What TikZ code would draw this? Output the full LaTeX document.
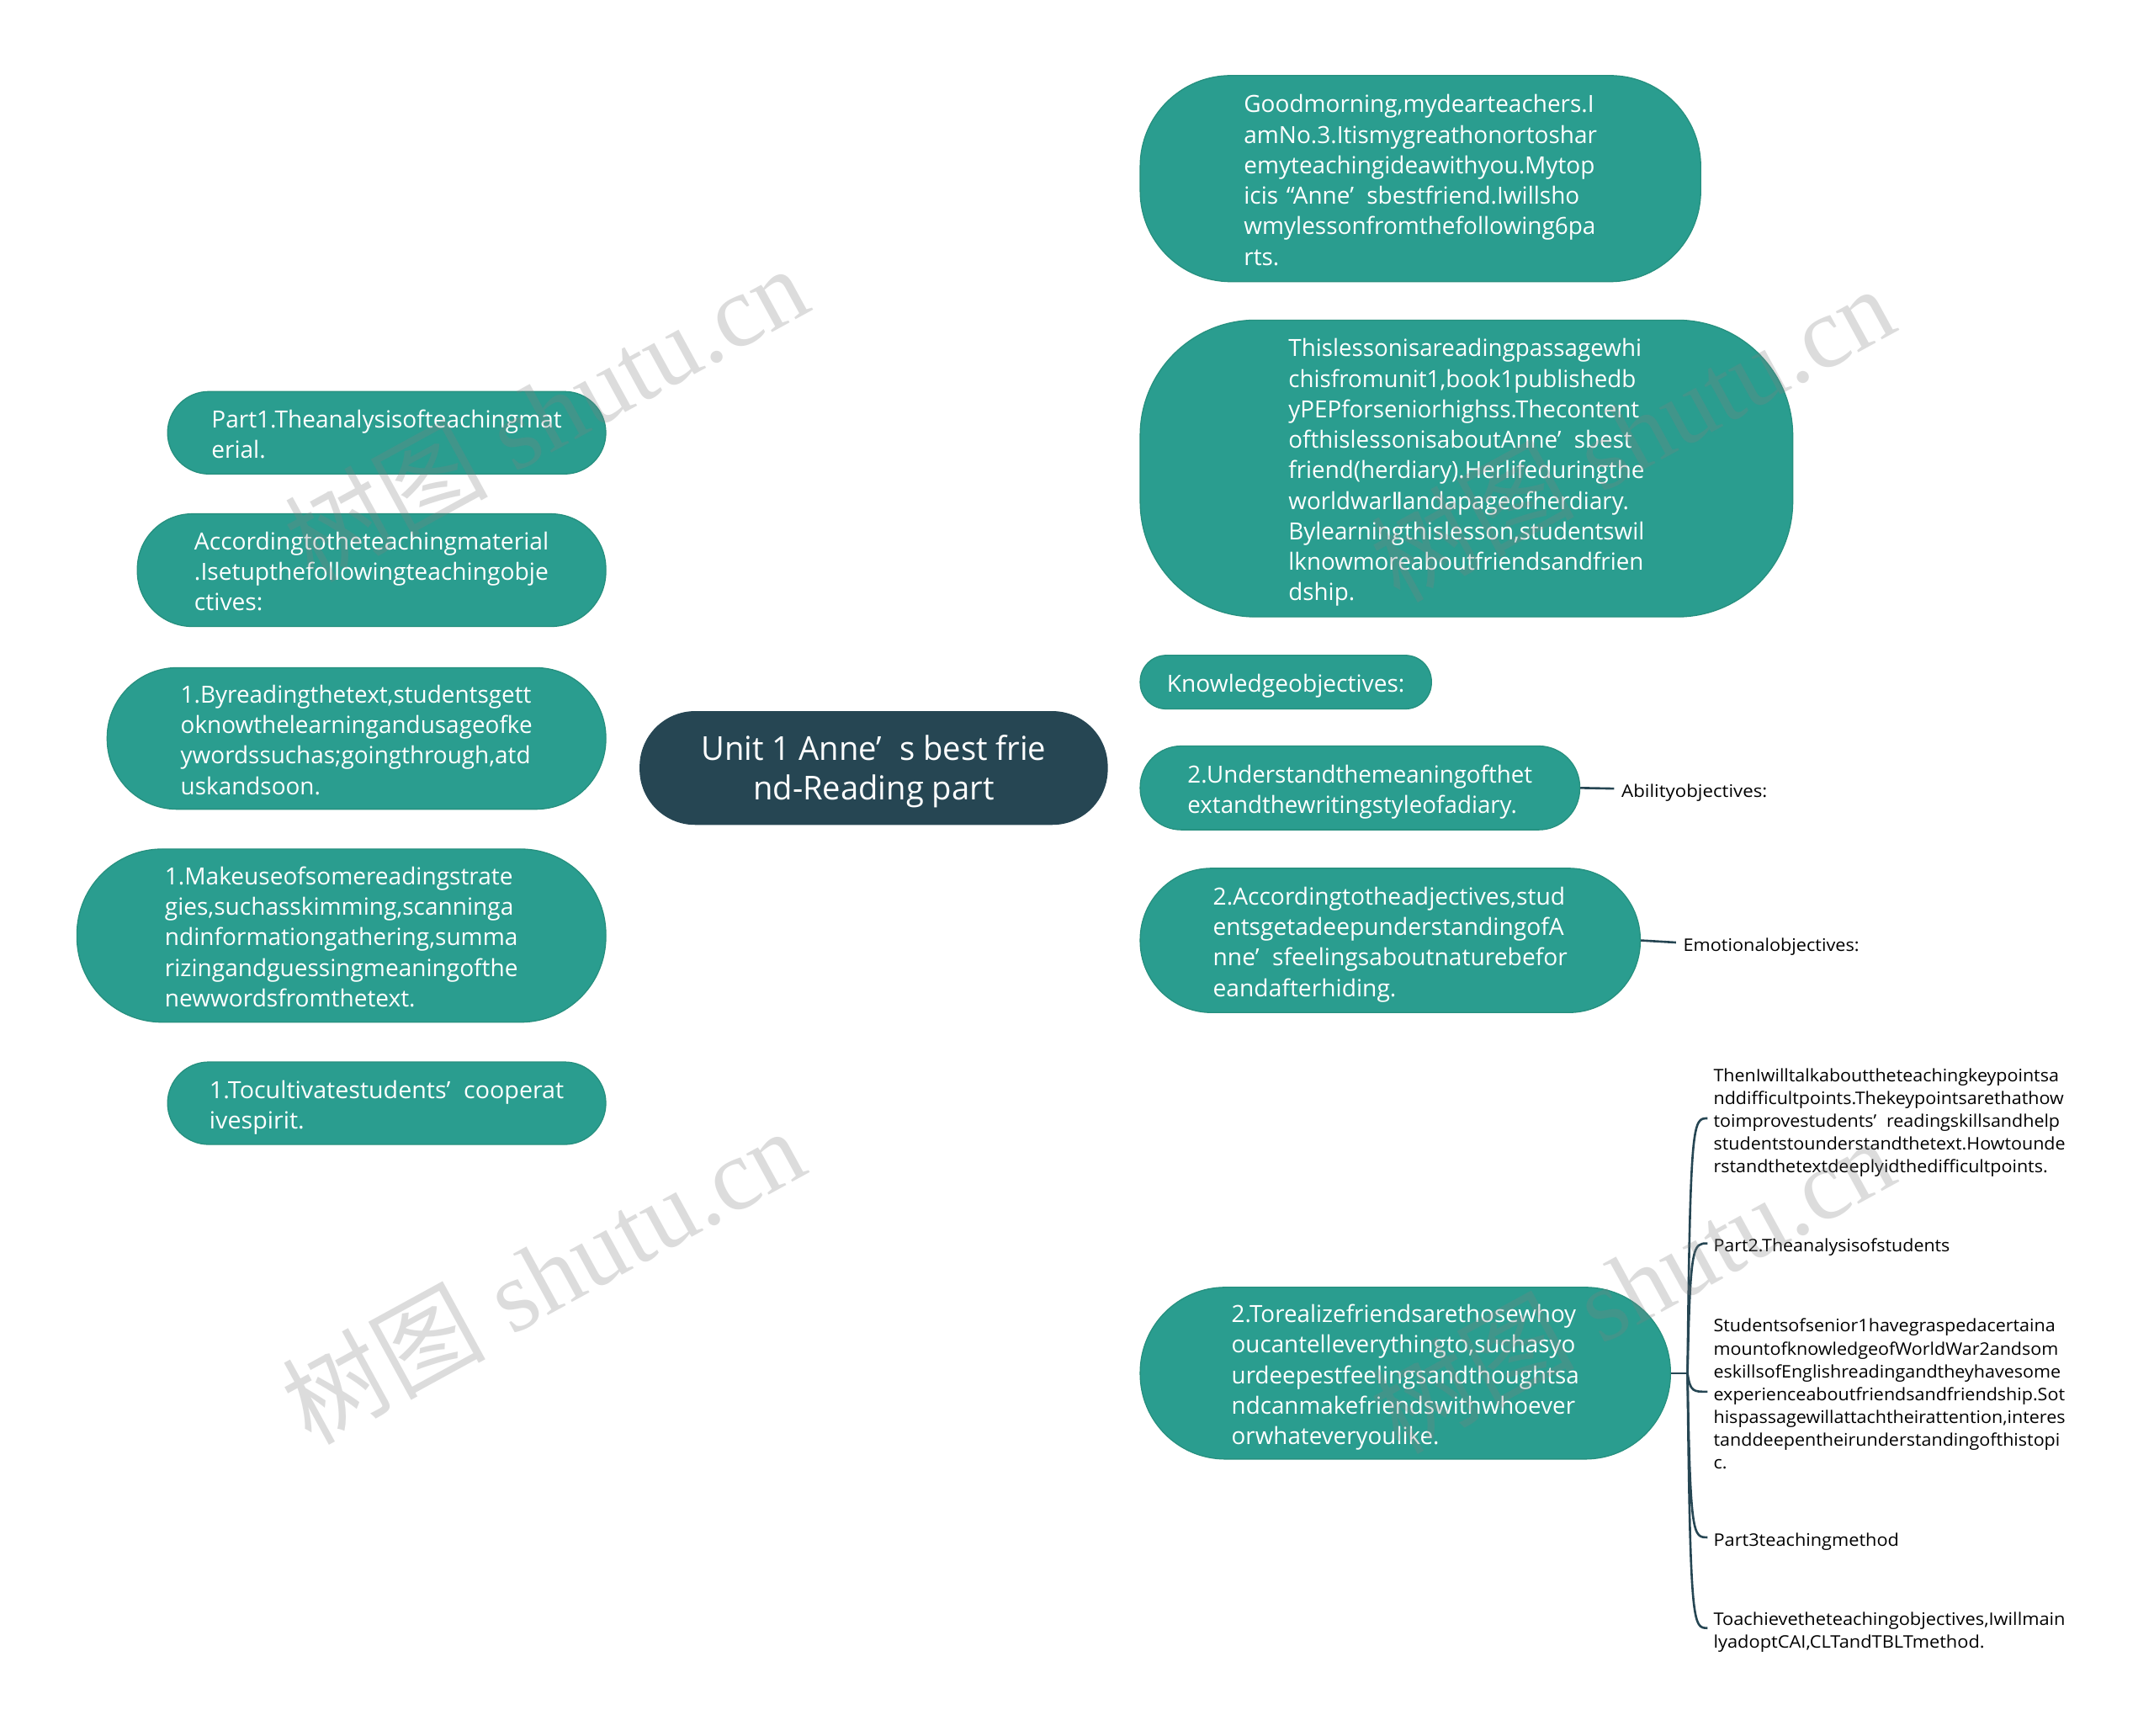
\documentclass[tikz,border=0pt]{standalone}
\usepackage{fontspec}
\usepackage{graphicx}
\setmainfont{Open Sans}
\newfontfamily\dejavu{DejaVu Sans}
\newfontfamily\cjk{Noto Sans CJK SC}
\newfontfamily\wmserif{Liberation Serif}
\usetikzlibrary{calc}
\pgfdeclarelayer{background}
\pgfsetlayers{background,main}
\definecolor{teal1}{HTML}{2A9D8F}
\definecolor{teal2}{HTML}{26907F}
\definecolor{dark1}{HTML}{264653}
\newcommand\tb[3]{\raisebox{0pt}[\dimexpr\height+3pt\relax][\depth]{\resizebox{#1pt}{\height}{\begin{tabular}{@{}#2@{}}#3\end{tabular}}}}
\newcommand\fq{’\hspace{0.55em}}
\tikzset{
  gbox/.style={fill=teal1, draw=teal2, line width=0.4pt, text=white, inner sep=0pt,
    font=\fontsize{8.6}{11.1}\selectfont},
  rootbox/.style={fill=dark1, draw=dark1, text=white, inner sep=0pt,
    font=\fontsize{12}{14.6}\selectfont},
  leaf/.style={text=black, inner sep=0pt, anchor=west, font=\fontsize{6.3}{8.3}\selectfont},
  edge/.style={draw=dark1, line width=0.8pt},
  wm/.style={text=gray, opacity=0.27, font=\fontsize{37}{40}\selectfont, inner sep=0pt}
}
\begin{document}
\begin{tikzpicture}[x=0.5pt,y=-0.5pt]
\useasboundingbox (0,0) rectangle (1568,1263);
\fill[white] (0,0) rectangle (1568,1263);

% root
\node[rootbox, minimum width=170pt, minimum height=41pt, rounded corners=20pt] (root) at (636,559)
  {\tb{125.5}{c}{Unit 1 Anne\fq s best frie\\nd-Reading part}};

% right nodes
\node[gbox, minimum width=204pt, minimum height=75pt, rounded corners=33pt] (r1) at (1034,130)
  {\tb{128.5}{l}{Goodmorning,mydearteachers.I\\amNo.3.Itismygreathonortoshar\\emyteachingideawithyou.Mytop\\icis\hspace{0.35em}“Anne\fq sbestfriend.Iwillsho\\wmylessonfromthefollowing6pa\\rts.}};
\node[gbox, minimum width=237.5pt, minimum height=108pt, rounded corners=42pt] (r2) at (1067.5,341)
  {\tb{129.5}{l}{Thislessonisareadingpassagewhi\\chisfromunit1,book1publishedb\\yPEPforseniorhighss.Thecontent\\ofthislessonisaboutAnne\fq sbest\\friend(herdiary).Herlifeduringthe\\worldwar{\dejavu Ⅱ}andapageofherdiary.\\Bylearningthislesson,studentswil\\lknowmoreaboutfriendsandfrien\\dship.}};
\node[gbox, minimum width=106pt, minimum height=19.5pt, rounded corners=9.5pt] (r3) at (936,496.5)
  {\tb{86.5}{l}{Knowledgeobjectives:}};
\node[gbox, minimum width=160pt, minimum height=30.5pt, rounded corners=15pt] (r4) at (990,573.5)
  {\tb{125.5}{l}{2.Understandthemeaningofthet\\extandthewritingstyleofadiary.}};
\node[gbox, minimum width=182pt, minimum height=52.5pt, rounded corners=26pt] (r5) at (1012,684.5)
  {\tb{129}{l}{2.Accordingtotheadjectives,stud\\entsgetadeepunderstandingofA\\nne\fq sfeelingsaboutnaturebefor\\eandafterhiding.}};
\node[gbox, minimum width=193pt, minimum height=62.5pt, rounded corners=31pt] (r6) at (1023,999.5)
  {\tb{126.5}{l}{2.Torealizefriendsarethosewhoy\\oucantelleverythingto,suchasyo\\urdeepestfeelingsandthoughtsa\\ndcanmakefriendswithwhoever\\orwhateveryoulike.}};

% left nodes
\node[gbox, minimum width=159.5pt, minimum height=30pt, rounded corners=15pt] (l1) at (281.5,315)
  {\tb{127.5}{l}{Part1.Theanalysisofteachingmat\\erial.}};
\node[gbox, minimum width=170.5pt, minimum height=41pt, rounded corners=20pt] (l2) at (270.5,415)
  {\tb{129}{l}{Accordingtotheteachingmaterial\\.Isetupthefollowingteachingobje\\ctives:}};
\node[gbox, minimum width=181.5pt, minimum height=51.5pt, rounded corners=25.5pt] (l3) at (259.5,537.5)
  {\tb{128}{l}{1.Byreadingthetext,studentsgett\\oknowthelearningandusageofke\\ywordssuchas;goingthrough,atd\\uskandsoon.}};
\node[gbox, minimum width=192.5pt, minimum height=63pt, rounded corners=31pt] (l4) at (248.5,681)
  {\tb{128.5}{l}{1.Makeuseofsomereadingstrate\\gies,suchasskimming,scanninga\\ndinformationgathering,summa\\rizingandguessingmeaningofthe\\newwordsfromthetext.}};
\node[gbox, minimum width=159.5pt, minimum height=30pt, rounded corners=15pt] (l5) at (281.5,803)
  {\tb{129}{l}{1.Tocultivatestudents\fq cooperat\\ivespirit.}};

% leaves
\node[leaf] (ab) at (1180,574) {\tb{53}{l}{Abilityobjectives:}};
\node[leaf] (em) at (1225,686) {\tb{64}{l}{Emotionalobjectives:}};
\node[leaf] (k1) at (1247,814) {\tb{128}{l}{ThenIwilltalkabouttheteachingkeypointsa\\nddifficultpoints.Thekeypointsarethathow\\toimprovestudents\fq readingskillsandhelp\\studentstounderstandthetext.Howtounde\\rstandthetextdeeplyidthedifficultpoints.}};
\node[leaf] (k2) at (1247,905) {\tb{86}{l}{Part2.Theanalysisofstudents}};
\node[leaf] (k3) at (1247,1013) {\tb{128}{l}{Studentsofsenior1havegraspedacertaina\\mountofknowledgeofWorldWar2andsom\\eskillsofEnglishreadingandtheyhavesome\\experienceaboutfriendsandfriendship.Sot\\hispassagewillattachtheirattention,interes\\tanddeepentheirunderstandingofthistopi\\c.}};
\node[leaf] (k4) at (1247,1119) {\tb{67.5}{l}{Part3teachingmethod}};
\node[leaf] (k5) at (1247,1185) {\tb{128}{l}{Toachievetheteachingobjectives,Iwillmain\\lyadoptCAI,CLTandTBLTmethod.}};

\coordinate (j) at ($(r6.east)+(12,0)$);

\begin{pgfonlayer}{background}
\foreach \n in {r1,r2,r3,r4,r5,r6}
  \draw[edge] (root.center) .. controls (root.center |- \n.west) and ($(root.center |- \n.west)!0.3!(\n.west)$) .. (\n.west);
\foreach \n in {l1,l2,l3,l4,l5}
  \draw[edge] (root.center) .. controls (root.center |- \n.east) and ($(root.center |- \n.east)!0.3!(\n.east)$) .. (\n.east);
\end{pgfonlayer}
\draw[edge] (r4.east) -- ($(ab.west)+(-5,0)$);
\draw[edge] (r5.east) -- ($(em.west)+(-5,0)$);
\draw[edge] (r6.east) -- (j);
\foreach \k in {k1,k2,k3,k4,k5}
  \draw[edge] (j) .. controls ($(j |- \k.west)+(2,0)$) and ($(j |- \k.west)+(4,0)$) .. ($(\k.west)+(-4,0)$);

% watermarks
\node[wm, rotate=28.7] (w1) at (397,300) {{\cjk 树图} {\wmserif shutu.cn}};
\node[wm, rotate=28.7] (w2) at (1188,315) {{\cjk 树图} {\wmserif shutu.cn}};
\node[wm, rotate=28.7] (w3) at (395,928) {{\cjk 树图} {\wmserif shutu.cn}};
\node[wm, rotate=28.7] (w4) at (1188,935) {{\cjk 树图} {\wmserif shutu.cn}};
\end{tikzpicture}
\end{document}
